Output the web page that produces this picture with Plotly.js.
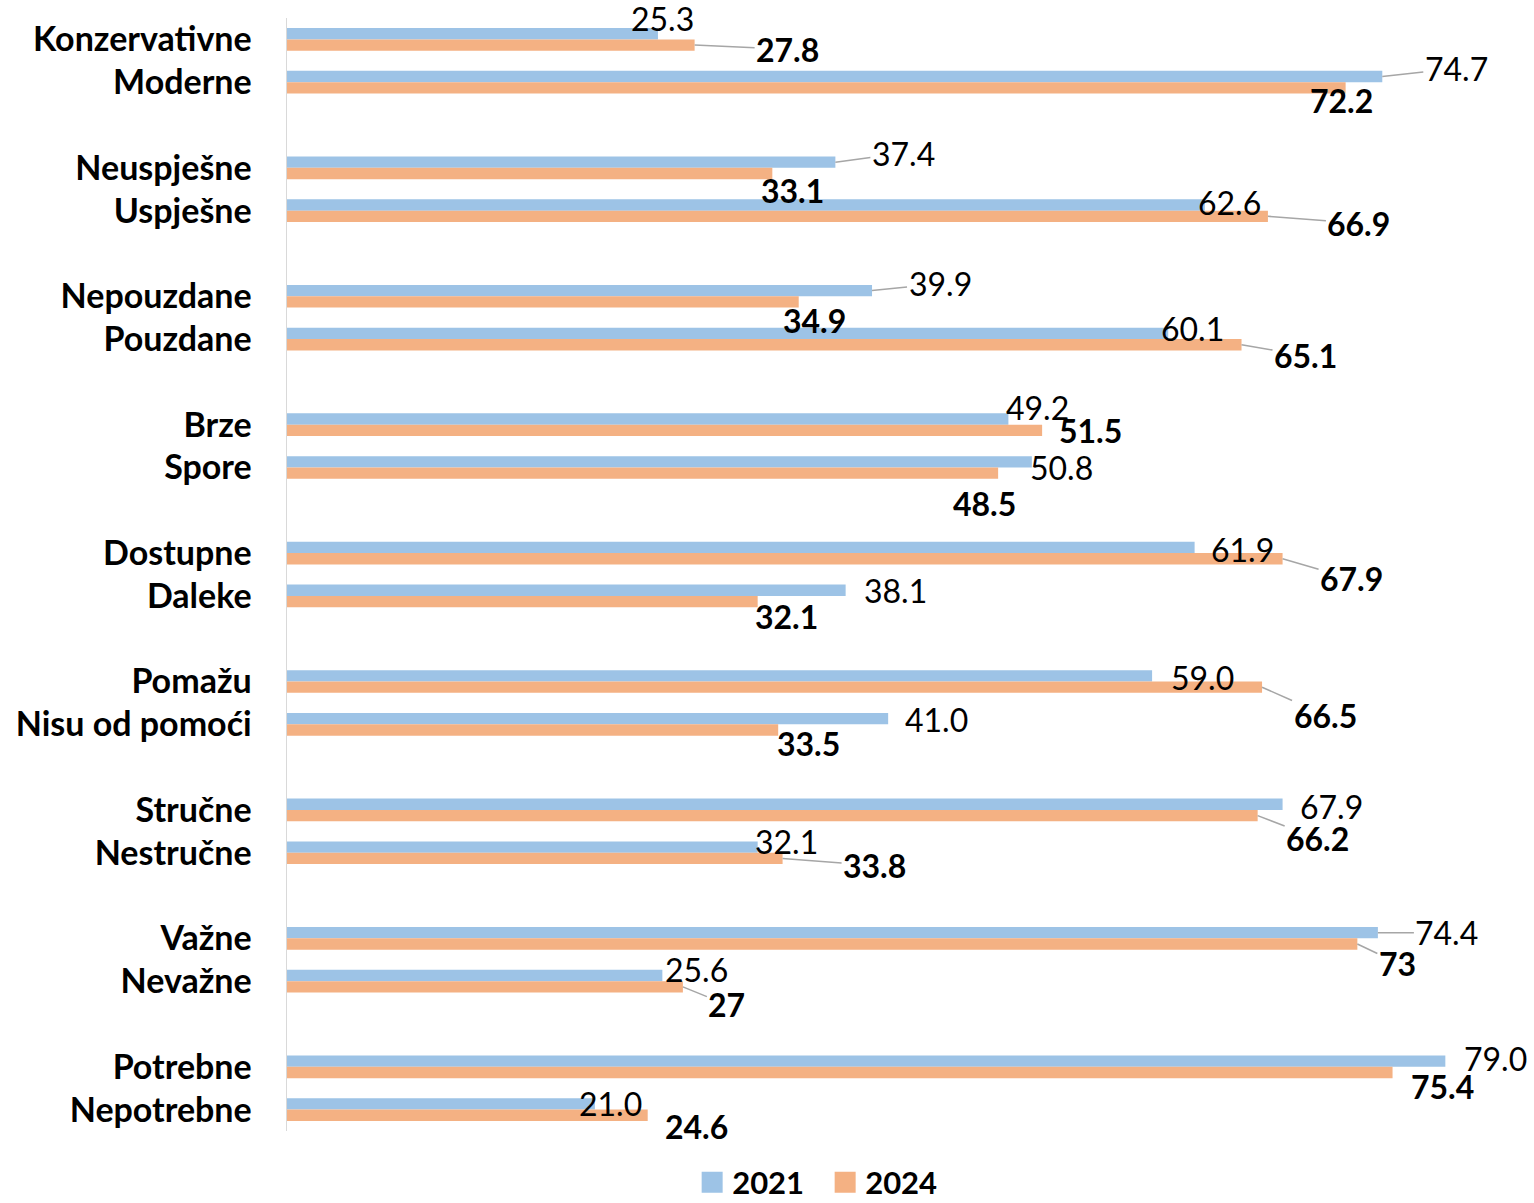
<!DOCTYPE html>
<html><head><meta charset="utf-8">
<script src="https://cdn.plot.ly/plotly-3.0.1.min.js"></script>
<style>
html,body{margin:0;padding:0;background:#fff}
#chart{width:1534px;height:1203px}
#chart .legend .legendpoints path{transform:translate(20px,0px) scale(1.75)}
</style>
</head><body><div id="chart"></div>
<script>
// ---- data ----
const categories = ["Konzervativne","Moderne","Neuspješne","Uspješne","Nepouzdane","Pouzdane","Brze","Spore","Dostupne","Daleke","Pomažu","Nisu od pomoći","Stručne","Nestručne","Važne","Nevažne","Potrebne","Nepotrebne"];
const values2021 = [25.3,74.7,37.4,62.6,39.9,60.1,49.2,50.8,61.9,38.1,59.0,41.0,67.9,32.1,74.4,25.6,79.0,21.0];
const values2024 = [27.8,72.2,33.1,66.9,34.9,65.1,51.5,48.5,67.9,32.1,66.5,33.5,66.2,33.8,73,27,75.4,24.6];
const seriesNames = ["2021","2024"];
const labels2021 = values2021.map(v => v.toFixed(1));
const labels2024 = values2024.map(v => String(v));

// ---- label placement (pixel offsets from bar end) and leader-line flags ----
const off2021 = [[5,-15],[74,-8],[68,-9],[25,-2],[68,-7],[24,-5],[29,-12],[30,6],[48,2],[50,0],[50,2],[48,1],[49,2],[29,-6],[69,0],[34,-6],[50,-3],[16,0]];
const lead2021 = [0,1,1,0,1,0,0,0,0,0,0,0,0,0,1,0,0,0];
const off2024 = [[93,4],[-4,13],[20,17],[91,7],[16,19],[64,11],[48,0],[-14,30],[69,20],[29,15],[63,28],[30,13],[60,23],[92,7],[40,19],[44,18],[50,14],[49,11]];
const lead2024 = [1,0,0,1,0,1,0,0,1,0,1,0,1,1,1,1,0,0];

// ---- styles ----
const colors = ["#9DC3E6", "#F4B183"];
const FONT = "Lato, 'Open Sans', sans-serif";
const bargap = 0.47;

// category slot: pairs separated by an empty slot
const slotOf = i => Math.floor(i / 2) * 3 + (i % 2);
const slots = categories.map((c, i) => slotOf(i));
const lastSlot = slots[slots.length - 1];

const traces = [values2021, values2024].map((vals, k) => ({
  type: "bar",
  orientation: "h",
  name: seriesNames[k],
  x: vals,
  y: slots,
  marker: { color: colors[k], line: { width: 0 } },
  hoverinfo: "skip"
}));

const barOffset = (1 - bargap) / 4;
const annotations = [];
function addLabels(vals, labels, offs, leads, sign, bold) {
  vals.forEach((v, i) => {
    annotations.push({
      x: v, y: slots[i] + sign * barOffset, xref: "x", yref: "y",
      text: labels[i],
      showarrow: true, arrowhead: 0, arrowwidth: 1.5, standoff: 0,
      arrowcolor: leads[i] ? "#A6A6A6" : "rgba(0,0,0,0)",
      ax: offs[i][0], ay: offs[i][1], axref: "pixel", ayref: "pixel",
      font: { family: FONT, size: 32, color: "#000", weight: bold ? "bold" : "normal" }
    });
  });
}
addLabels(values2021, labels2021, off2021, lead2021, -1, false);
addLabels(values2024, labels2024, off2024, lead2024, 1, true);

const layout = {
  width: 1534, height: 1203,
  margin: { l: 287, r: 74, t: 18, b: 72, pad: 0, autoexpand: false },
  paper_bgcolor: "#fff", plot_bgcolor: "#fff",
  font: { family: FONT, color: "#000" },
  barmode: "group", bargap: bargap, bargroupgap: 0,
  showlegend: true,
  legend: {
    orientation: "h", x: 0.3454, xanchor: "left", y: -0.0463, yanchor: "middle",
    entrywidth: 88, entrywidthmode: "pixels",
    font: { family: FONT, size: 31, weight: "bold", color: "#000" },
    bgcolor: "rgba(0,0,0,0)"
  },
  xaxis: { range: [0, 80], showgrid: false, zeroline: false, showticklabels: false, showline: false, ticks: "" },
  yaxis: {
    range: [lastSlot + 0.5, -0.5],
    tickmode: "array", tickvals: slots, ticktext: categories,
    showgrid: false, zeroline: false, ticks: "",
    showline: true, linecolor: "#D9D9D9", linewidth: 1.5,
    ticklabelstandoff: 27,
    tickfont: { family: FONT, size: 34, weight: "bold", color: "#000" }
  },
  annotations: annotations
};

Plotly.newPlot("chart", traces, layout, { displayModeBar: false, staticPlot: true });
</script>
</body></html>
